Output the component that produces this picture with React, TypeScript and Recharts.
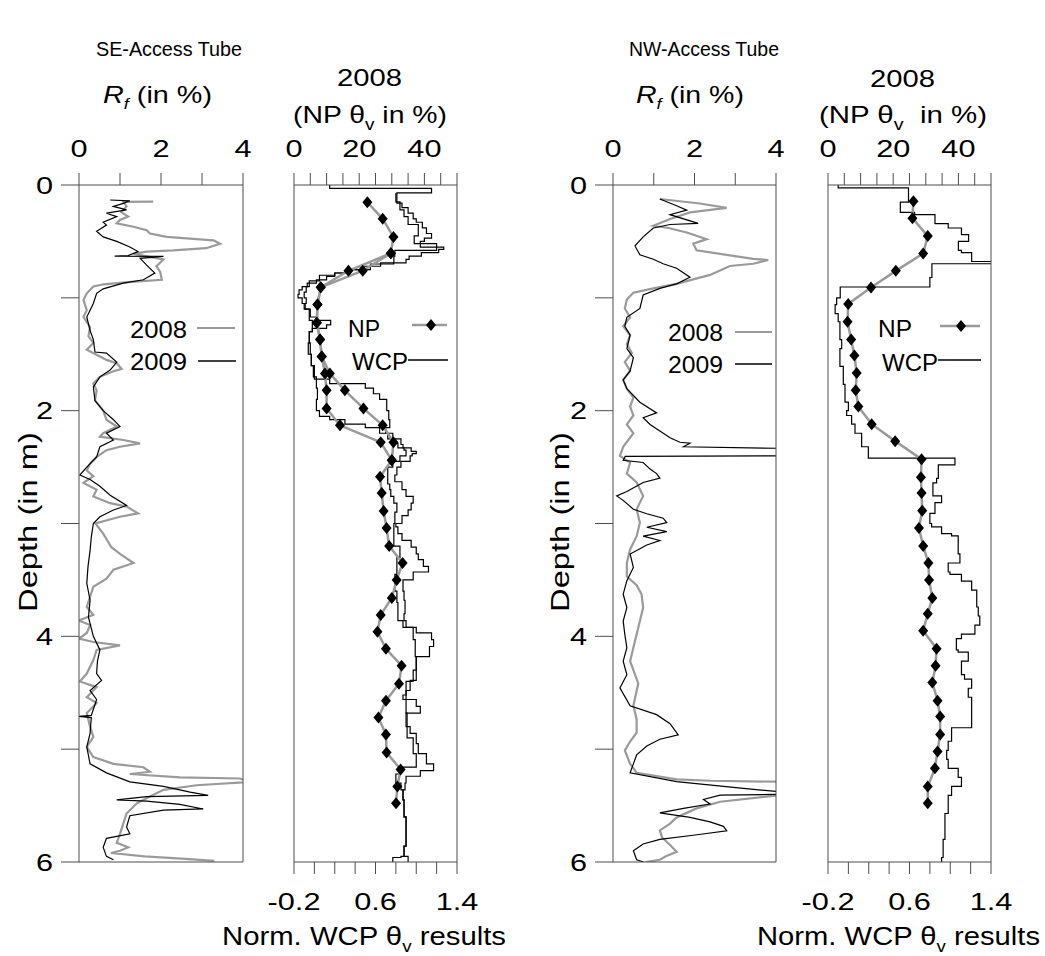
import React from "react";
import { ComposedChart, Line, XAxis, YAxis } from "recharts";

const W = 1045;
const H = 956;
const TOP = 185;
const BOTTOM = 862;
const FONT = "'Liberation Sans', Arial, Helvetica, sans-serif";
const AXIS = "#4d4d4d";
const GRAY = "#9a9a9a";

// ---- data: [depth in m, value] ----
const DEPTH_TICKS = [0, 1, 2, 3, 4, 5, 6];
const DEPTH_LABELS = [0, 2, 4, 6];
const RF_TICKS = [0, 1, 2, 3, 4];
const RF_LABELS = [0, 2, 4];
const RF_MINOR = [0, 0.4, 0.8, 1.2, 1.6, 2, 2.4, 2.8, 3.2, 3.6, 4];
const NP_TICKS = [0, 5, 10, 15, 20, 25, 30, 35, 40, 45, 50];
const NP_LABELS = [0, 20, 40];
const WCP_TICKS = [-0.2, 0, 0.2, 0.4, 0.6, 0.8, 1.0, 1.2, 1.4];
const WCP_LABELS = [-0.2, 0.6, 1.4];

const SE_RF_2008: [number, number][] = [
  [0.148, 1.81], [0.15, 1.08], [0.19, 1.16], [0.24, 1.03], [0.28, 1.2], [0.31, 1.0], [0.34, 0.92],
  [0.37, 1.33], [0.4, 1.65], [0.43, 1.73], [0.46, 2.14], [0.48, 2.87], [0.49, 3.28], [0.52, 3.44],
  [0.56, 3.1], [0.58, 2.3], [0.59, 1.65], [0.61, 1.33], [0.66, 2.06], [0.72, 1.89], [0.77, 1.98],
  [0.84, 2.02], [0.86, 1.2], [0.88, 0.6], [0.9, 0.35], [0.96, 0.19], [1.02, 0.11], [1.11, 0.19],
  [1.17, 0.11], [1.26, 0.27], [1.34, 0.23], [1.4, 0.35], [1.46, 0.19], [1.52, 0.51], [1.55, 0.67],
  [1.58, 0.92], [1.63, 1.04], [1.65, 0.84], [1.7, 0.51], [1.76, 0.35], [1.82, 0.43], [1.91, 0.39],
  [2.0, 0.59], [2.08, 0.67], [2.14, 0.92], [2.2, 0.59], [2.23, 0.51], [2.26, 1.08], [2.29, 1.49],
  [2.32, 1.0], [2.35, 0.67], [2.41, 0.43], [2.47, 0.27], [2.53, 0.19], [2.58, 0.35], [2.64, 0.11],
  [2.7, 0.43], [2.76, 0.35], [2.82, 0.76], [2.85, 1.16], [2.91, 1.44], [2.94, 1.0], [3.0, 0.4],
  [3.09, 0.59], [3.21, 0.79], [3.27, 1.0], [3.35, 1.33], [3.41, 0.84], [3.49, 0.67], [3.56, 0.35],
  [3.65, 0.27], [3.74, 0.19], [3.81, 0.35], [3.86, 0.0], [3.9, 0.27], [3.97, 0.19], [4.02, 0.0],
  [4.05, 0.35], [4.08, 1.0], [4.12, 0.43], [4.21, 0.35], [4.33, 0.19], [4.4, 0.02], [4.45, 0.43],
  [4.54, 0.19], [4.59, 0.43], [4.68, 0.19], [4.8, 0.27], [4.89, 0.35], [4.98, 0.19], [5.07, 0.35],
  [5.13, 0.84], [5.16, 1.57], [5.2, 1.73], [5.22, 1.24], [5.25, 2.46], [5.26, 3.92], [5.29, 4.2],
  [5.32, 2.87], [5.36, 2.06], [5.42, 1.73], [5.48, 1.41], [5.57, 1.16], [5.66, 1.08], [5.75, 1.0],
  [5.83, 0.92], [5.87, 1.2], [5.9, 1.0], [5.92, 0.78], [5.95, 1.6], [5.97, 2.5], [5.99, 3.3],
];

const SE_RF_2009: [number, number][] = [
  [0.133, 0.76], [0.14, 1.24], [0.163, 1.08], [0.19, 0.84], [0.22, 1.16], [0.25, 0.67], [0.28, 0.92],
  [0.33, 0.59], [0.355, 0.67], [0.41, 0.43], [0.46, 0.59], [0.5, 0.92], [0.55, 1.24], [0.59, 1.44],
  [0.625, 1.2], [0.63, 0.87], [0.632, 2.06], [0.65, 1.49], [0.71, 1.65], [0.78, 1.85], [0.84, 1.57],
  [0.87, 1.08], [0.92, 0.59], [0.96, 0.43], [1.05, 0.35], [1.17, 0.19], [1.29, 0.27], [1.37, 0.35],
  [1.48, 0.39], [1.49, 0.67], [1.57, 0.92], [1.64, 0.76], [1.7, 0.51], [1.79, 0.35], [1.91, 0.39],
  [2.0, 0.59], [2.08, 0.84], [2.14, 1.0], [2.2, 0.67], [2.26, 0.84], [2.32, 0.51], [2.41, 0.43],
  [2.5, 0.19], [2.57, 0.02], [2.61, 0.27], [2.67, 0.51], [2.75, 0.76], [2.84, 1.16], [2.88, 0.84],
  [2.94, 0.51], [3.0, 0.35], [3.12, 0.3], [3.24, 0.27], [3.38, 0.22], [3.53, 0.19], [3.68, 0.27],
  [3.83, 0.23], [4.0, 0.35], [4.12, 0.51], [4.22, 0.45], [4.33, 0.43], [4.39, 0.55], [4.48, 0.27],
  [4.56, 0.43], [4.7, 0.3], [4.71, 0.0], [4.72, 0.3], [4.86, 0.27], [4.98, 0.19], [5.13, 0.27],
  [5.21, 0.67], [5.29, 1.24], [5.33, 2.06], [5.38, 2.71], [5.41, 3.15], [5.42, 1.65], [5.45, 0.92],
  [5.46, 1.65], [5.49, 2.46], [5.53, 3.03], [5.54, 2.06], [5.59, 1.24], [5.69, 1.16], [5.75, 1.24],
  [5.79, 0.67], [5.87, 0.59], [5.95, 0.67], [5.98, 0.84],
];

const SE_NP_A: [number, number][] = [
  [0.153, 22.5], [0.3, 27.2], [0.46, 30.5], [0.605, 29.7], [0.76, 21.1], [0.907, 8.2], [1.06, 7.2],
  [1.22, 7.0], [1.37, 8.0], [1.52, 8.5], [1.67, 11.0], [1.82, 15.6], [1.98, 21.3], [2.13, 27.2],
  [2.28, 30.5], [2.44, 30.0], [2.585, 26.4], [2.73, 26.9], [2.89, 27.5], [3.04, 28.4], [3.2, 29.2],
  [3.35, 33.3], [3.5, 31.5], [3.66, 30.0], [3.81, 26.6], [3.96, 25.6], [4.11, 28.2], [4.26, 33.0],
  [4.42, 32.2], [4.57, 28.2], [4.72, 25.9], [4.87, 28.2], [5.03, 28.4], [5.18, 32.7], [5.33, 31.7],
  [5.48, 31.3],
];

const SE_NP_B: [number, number][] = [
  [0.605, 29.7], [0.76, 16.7], [0.907, 8.2], [1.06, 7.2], [1.22, 7.0], [1.37, 8.0], [1.52, 8.5],
  [1.67, 9.5], [1.82, 10.0], [1.98, 10.0], [2.13, 14.1], [2.28, 26.6], [2.44, 30.0],
];

const SE_WCP_A: [number, number][] = [
  [0, 0.15], [0.03, 1.15], [0.07, 0.81], [0.16, 0.86], [0.2, 0.92], [0.25, 0.97], [0.3, 1.0],
  [0.33, 1.06], [0.38, 1.1], [0.43, 1.15], [0.47, 1.08], [0.5, 1.04], [0.55, 1.27], [0.57, 1.22],
  [0.6, 1.05], [0.63, 0.93], [0.66, 0.9], [0.69, 0.65], [0.72, 0.45], [0.75, 0.32], [0.78, 0.2],
  [0.81, 0.12], [0.84, 0.02], [0.87, -0.07], [0.9, -0.12], [0.93, -0.15], [0.97, -0.16], [1.0, -0.12],
  [1.05, -0.09], [1.1, -0.05], [1.2, -0.02], [1.3, -0.05], [1.4, -0.04], [1.5, -0.03], [1.6, -0.01],
  [1.7, 0.0], [1.72, 0.15], [1.76, 0.5], [1.8, 0.58], [1.85, 0.64], [1.9, 0.71], [2.0, 0.73],
  [2.08, 0.74], [2.15, 0.7], [2.2, 0.77], [2.25, 0.85], [2.3, 0.87], [2.33, 0.95], [2.36, 1.0],
  [2.38, 0.96], [2.4, 0.94], [2.45, 0.85], [2.5, 0.81], [2.57, 0.79], [2.63, 0.86], [2.7, 0.9],
  [2.76, 0.97], [2.82, 0.95], [2.88, 0.92], [2.93, 0.86], [3.0, 0.8], [3.03, 0.82], [3.09, 0.86],
  [3.15, 0.95], [3.21, 1.0], [3.27, 1.02], [3.32, 1.07], [3.38, 1.12], [3.43, 0.97], [3.5, 0.87],
  [3.6, 0.88], [3.68, 0.89], [3.8, 0.88], [3.86, 0.9], [3.92, 1.0], [3.97, 1.15], [4.03, 1.17],
  [4.09, 1.13], [4.18, 1.0], [4.27, 1.0], [4.39, 0.94], [4.48, 0.9], [4.52, 0.87], [4.56, 1.0],
  [4.62, 1.04], [4.68, 0.9], [4.8, 0.94], [4.86, 1.0], [4.95, 1.02], [5.04, 1.1], [5.13, 1.17],
  [5.19, 1.04], [5.24, 0.9], [5.3, 0.89], [5.36, 0.87], [5.45, 0.88], [5.6, 0.9], [5.75, 0.9],
  [5.86, 0.88], [5.95, 0.92], [6.0, 0.92],
];

const SE_WCP_B: [number, number][] = [
  [0.07, 0.8], [0.15, 0.84], [0.22, 0.88], [0.28, 0.92], [0.35, 1.02], [0.45, 0.98], [0.52, 1.2],
  [0.58, 0.79], [0.63, 0.78], [0.7, 0.55], [0.75, 0.35], [0.78, 0.2], [0.8, 0.05], [0.85, -0.05],
  [0.9, -0.08], [0.95, -0.1], [1.0, -0.08], [1.05, -0.1], [1.1, -0.04], [1.17, 0.02], [1.2, 0.16],
  [1.24, 0.12], [1.27, -0.02], [1.3, -0.05], [1.4, -0.06], [1.5, -0.03], [1.6, 0.0], [1.7, 0.02],
  [1.8, 0.03], [1.9, 0.02], [2.0, 0.05], [2.05, 0.15], [2.08, 0.3], [2.12, 0.5], [2.15, 0.64],
  [2.2, 0.72], [2.25, 0.77], [2.29, 0.82], [2.33, 0.88], [2.35, 0.9], [2.4, 0.84], [2.45, 0.77],
  [2.5, 0.72], [2.6, 0.72], [2.65, 0.74], [2.7, 0.75], [2.76, 0.78], [2.82, 0.81], [2.9, 0.79],
  [3.0, 0.78], [3.09, 0.78], [3.2, 0.84], [3.3, 0.81], [3.45, 0.79], [3.6, 0.81], [3.7, 0.82],
  [3.86, 0.87], [3.92, 0.97], [4.03, 0.99], [4.18, 1.0], [4.3, 0.97], [4.4, 0.9], [4.56, 0.9],
  [4.68, 0.91], [4.8, 0.91], [4.9, 0.97], [5.04, 1.0], [5.16, 0.84], [5.22, 0.8], [5.3, 0.85],
  [5.36, 0.87], [5.45, 0.88], [5.6, 0.9], [5.75, 0.9], [5.86, 0.88], [5.95, 0.85], [5.96, 0.77],
  [6.0, 0.77],
];

const NW_RF_2008: [number, number][] = [
  [0.124, 1.15], [0.164, 2.13], [0.203, 2.79], [0.243, 1.89], [0.302, 1.4], [0.362, 0.99],
  [0.381, 1.36], [0.421, 1.81], [0.48, 2.3], [0.52, 1.97], [0.579, 2.05], [0.619, 2.79],
  [0.655, 3.44], [0.665, 3.81], [0.698, 3.44], [0.718, 2.87], [0.797, 2.38], [0.836, 1.97],
  [0.876, 1.56], [0.916, 0.99], [0.955, 0.5], [1.015, 0.34], [1.094, 0.29], [1.173, 0.42],
  [1.252, 0.25], [1.331, 0.42], [1.41, 0.34], [1.489, 0.46], [1.569, 0.29], [1.648, 0.42],
  [1.727, 0.25], [1.806, 0.34], [1.885, 0.5], [1.964, 0.42], [2.043, 0.5], [2.122, 0.34],
  [2.2, 0.5], [2.32, 0.25], [2.4, 0.17], [2.459, 0.42], [2.558, 0.34], [2.637, 0.58],
  [2.756, 0.74], [2.874, 0.58], [2.993, 0.66], [3.112, 0.58], [3.23, 0.42], [3.35, 0.34],
  [3.47, 0.34], [3.547, 0.58], [3.626, 0.7], [3.745, 0.74], [3.864, 0.66], [3.982, 0.58],
  [4.1, 0.5], [4.22, 0.42], [4.418, 0.62], [4.615, 0.5], [4.734, 0.58], [4.853, 0.58],
  [4.932, 0.42], [5.011, 0.29], [5.13, 0.42], [5.209, 0.58], [5.268, 1.56], [5.28, 2.38],
  [5.29, 4.3], [5.4, 4.3], [5.466, 2.63], [5.525, 2.05], [5.605, 1.56], [5.66, 1.4], [5.72, 1.15],
  [5.78, 1.2], [5.85, 1.4], [5.91, 1.56], [5.95, 1.3], [5.98, 1.15], [6.0, 0.8],
];

const NW_RF_2009: [number, number][] = [
  [0.124, 1.15], [0.184, 1.56], [0.223, 1.81], [0.263, 1.4], [0.34, 2.09], [0.35, 1.4],
  [0.381, 0.99], [0.46, 0.74], [0.54, 0.54], [0.619, 0.66], [0.658, 0.99], [0.698, 1.23],
  [0.738, 1.56], [0.817, 1.89], [0.876, 1.56], [0.916, 1.15], [0.975, 0.74], [1.094, 0.66],
  [1.173, 0.34], [1.252, 0.29], [1.331, 0.42], [1.45, 0.34], [1.53, 0.5], [1.648, 0.42],
  [1.727, 0.25], [1.806, 0.34], [1.925, 0.66], [2.02, 1.07], [2.063, 0.74], [2.122, 0.91],
  [2.24, 1.4], [2.28, 1.64], [2.289, 1.89], [2.32, 1.73], [2.335, 4.3], [2.4, 4.3], [2.405, 0.3],
  [2.44, 0.25], [2.459, 0.74], [2.518, 0.91], [2.558, 1.07], [2.597, 1.15], [2.637, 0.74],
  [2.716, 0.34], [2.756, 0.09], [2.795, 0.25], [2.874, 0.5], [2.914, 0.83], [2.953, 1.23],
  [2.993, 1.32], [3.033, 0.83], [3.072, 1.32], [3.112, 0.74], [3.151, 1.15], [3.191, 0.83],
  [3.27, 0.42], [3.389, 0.5], [3.507, 0.34], [3.626, 0.25], [3.745, 0.34], [3.864, 0.25],
  [3.982, 0.29], [4.1, 0.34], [4.22, 0.25], [4.34, 0.34], [4.457, 0.17], [4.615, 0.42],
  [4.694, 1.07], [4.774, 1.4], [4.873, 1.6], [4.912, 1.15], [4.972, 0.83], [5.051, 0.58],
  [5.13, 0.5], [5.209, 0.42], [5.288, 1.56], [5.347, 3.2], [5.385, 4.3], [5.4, 4.3],
  [5.407, 2.63], [5.446, 2.22], [5.486, 2.38], [5.525, 1.73], [5.565, 1.15], [5.605, 1.89],
  [5.644, 2.38], [5.684, 2.71], [5.723, 2.79], [5.763, 1.97], [5.8, 1.15], [5.84, 0.74],
  [5.9, 0.5], [5.98, 0.58], [6.0, 0.75],
];

const NW_NP: [number, number][] = [
  [0.144, 26.2], [0.294, 25.9], [0.453, 30.6], [0.607, 29.2], [0.761, 20.8], [0.908, 13.2],
  [1.054, 6.2], [1.212, 6.0], [1.37, 7.1], [1.51, 8.1], [1.667, 8.8], [1.818, 8.5], [1.964, 9.3],
  [2.12, 13.4], [2.27, 20.6], [2.43, 28.7], [2.59, 28.5], [2.73, 28.7], [2.886, 28.9], [3.04, 27.9],
  [3.2, 29.2], [3.35, 30.8], [3.5, 31.0], [3.66, 32.0], [3.8, 30.6], [3.95, 29.2], [4.11, 33.3],
  [4.26, 33.0], [4.41, 32.0], [4.57, 33.6], [4.71, 34.4], [4.87, 34.4], [5.02, 33.6], [5.17, 32.8],
  [5.33, 30.6], [5.48, 30.6],
];

const NW_WCP: [number, number][] = [
  [0, -0.1], [0.025, 0.59], [0.152, 0.51], [0.243, 0.65], [0.263, 0.85], [0.342, 0.98],
  [0.381, 1.11], [0.44, 1.18], [0.5, 1.08], [0.579, 1.11], [0.599, 1.21], [0.678, 1.45],
  [0.698, 0.82], [0.82, 0.8], [0.904, -0.08], [1.0, -0.115], [1.06, -0.13], [1.14, -0.1],
  [1.212, -0.083], [1.37, -0.066], [1.45, -0.083], [1.608, -0.05], [1.767, -0.033], [1.925, 0.0],
  [2.0, -0.017], [2.043, 0.032], [2.12, 0.065], [2.2, 0.13], [2.32, 0.196], [2.42, 1.046],
  [2.48, 0.883], [2.6, 0.866], [2.64, 0.83], [2.755, 0.915], [2.815, 0.85], [2.91, 0.8],
  [3.0, 0.817], [3.03, 0.915], [3.09, 1.013], [3.11, 1.078], [3.27, 1.095], [3.35, 0.98],
  [3.43, 0.997], [3.45, 1.11], [3.51, 1.21], [3.59, 1.26], [3.74, 1.275], [3.82, 1.29],
  [3.9, 1.242], [3.98, 1.11], [4.02, 1.06], [4.12, 1.078], [4.14, 1.177], [4.22, 1.11],
  [4.34, 1.14], [4.38, 1.21], [4.46, 1.177], [4.54, 1.21], [4.81, 1.013], [4.93, 0.98],
  [5.01, 0.965], [5.09, 0.98], [5.17, 1.078], [5.25, 1.11], [5.33, 1.013], [5.41, 0.98],
  [5.57, 0.948], [5.8, 0.93], [5.96, 0.915], [6.0, 0.91],
];

const rows = (pairs: [number, number][]) => pairs.map(([d, v]) => ({ d, v }));

const near = (list: number[], v: number) => list.some((l) => Math.abs(l - v) < 1e-6);

function makeTick(labels: number[], anchor: "middle" | "end", dy: number, digits: number) {
  return (p: any) => {
    const v = Number(p.payload.value);
    if (!near(labels, v)) return <g />;
    return (
      <text
        transform={`translate(${p.x},${p.y + dy}) scale(1.28,1)`}
        textAnchor={anchor}
        fontSize={24}
        fontFamily={FONT}
        fill="#000"
      >
        {v.toFixed(digits)}
      </text>
    );
  };
}

const diamond = (p: any) => {
  const { cx, cy, index } = p;
  if (cx == null || cy == null) return <g key={`dn${index}`} />;
  return (
    <polygon
      key={`dm${index}`}
      points={`${cx},${cy - 6} ${cx + 5},${cy} ${cx},${cy + 6} ${cx - 5},${cy}`}
      fill="#000"
    />
  );
};

type Series = {
  key: string;
  data: [number, number][];
  axis: "top" | "bot";
  stroke: string;
  width: number;
  step?: boolean;
  marks?: boolean;
};

type PanelProps = {
  left: number;
  right: number;
  kind: "rf" | "np";
  depthLabels: boolean;
  series: Series[];
};

function Panel({ left, right, kind, depthLabels, series }: PanelProps) {
  const axisW = depthLabels ? 79 : 30;
  const rightPad = 40;
  const botH = kind === "np" ? 60 : 0;
  const topDomain = kind === "rf" ? [0, 4] : [0, 50];
  const botDomain = kind === "rf" ? [0, 4] : [-0.2, 1.4];
  return (
    <div style={{ position: "absolute", left: left - axisW, top: 0 }}>
      <ComposedChart
        layout="vertical"
        width={axisW + (right - left) + rightPad}
        height={H}
        margin={{ top: TOP - 40, right: rightPad, bottom: H - BOTTOM - botH, left: 0 }}
      >
        <XAxis
          xAxisId="top"
          orientation="top"
          type="number"
          domain={topDomain}
          ticks={kind === "rf" ? RF_TICKS : NP_TICKS}
          interval={0}
          allowDataOverflow
          height={40}
          tickSize={12}
          tickMargin={16}
          stroke={AXIS}
          tick={makeTick(kind === "rf" ? RF_LABELS : NP_LABELS, "middle", 0, 0)}
        />
        {kind === "rf" ? (
          <XAxis
            xAxisId="bot"
            orientation="bottom"
            type="number"
            domain={botDomain}
            ticks={RF_MINOR}
            interval={0}
            allowDataOverflow
            mirror
            height={30}
            tickSize={7}
            stroke={AXIS}
            tick={false}
          />
        ) : (
          <XAxis
            xAxisId="bot"
            orientation="bottom"
            type="number"
            domain={botDomain}
            ticks={WCP_TICKS}
            interval={0}
            allowDataOverflow
            height={60}
            tickSize={12}
            tickMargin={36}
            stroke={AXIS}
            tick={makeTick(WCP_LABELS, "middle", 0, 1)}
          />
        )}
        <YAxis
          yAxisId="left"
          type="number"
          dataKey="d"
          domain={[0, 6]}
          ticks={DEPTH_TICKS}
          interval={0}
          allowDataOverflow
          width={axisW}
          tickSize={18}
          tickMargin={8}
          stroke={AXIS}
          tick={depthLabels ? makeTick(DEPTH_LABELS, "end", 8.5, 0) : false}
        />
        <YAxis
          yAxisId="right"
          orientation="right"
          type="number"
          dataKey="d"
          domain={[0, 6]}
          ticks={DEPTH_TICKS}
          interval={0}
          allowDataOverflow
          mirror
          width={20}
          tickSize={10}
          stroke={AXIS}
          tick={false}
        />
        {series.map((s) => (
          <Line
            key={s.key}
            data={rows(s.data)}
            dataKey="v"
            xAxisId={s.axis}
            yAxisId="left"
            type={s.step ? "stepBefore" : "linear"}
            stroke={s.stroke}
            strokeWidth={s.width}
            dot={s.marks ? diamond : false}
            activeDot={false}
            isAnimationActive={false}
          />
        ))}
      </ComposedChart>
    </div>
  );
}

const txt = { fontFamily: FONT, fill: "#000" } as const;

function Overlay() {
  const legendLine = (x1: number, x2: number, y: number, color: string, w: number) => (
    <line x1={x1} x2={x2} y1={y} y2={y} stroke={color} strokeWidth={w} />
  );
  const dm = (cx: number, cy: number) => (
    <polygon points={`${cx},${cy - 6} ${cx + 5},${cy} ${cx},${cy + 6} ${cx - 5},${cy}`} fill="#000" />
  );
  return (
    <svg width={W} height={H} style={{ position: "absolute", left: 0, top: 0, pointerEvents: "none" }}>
      {/* titles */}
      <text x={96} y={56} fontSize={21} textLength={146} lengthAdjust="spacingAndGlyphs" {...txt}>SE-Access Tube</text>
      <text x={629} y={56} fontSize={21} textLength={150} lengthAdjust="spacingAndGlyphs" {...txt}>NW-Access Tube</text>

      {/* R_f labels */}
      <text x={103} y={103} fontSize={24} textLength={109} lengthAdjust="spacingAndGlyphs" {...txt}>
        <tspan fontStyle="italic">R</tspan>
        <tspan fontStyle="italic" fontSize={15} dy={6}>f</tspan>
        <tspan dy={-6}> (in %)</tspan>
      </text>
      <text x={636} y={103} fontSize={24} textLength={108} lengthAdjust="spacingAndGlyphs" {...txt}>
        <tspan fontStyle="italic">R</tspan>
        <tspan fontStyle="italic" fontSize={15} dy={6}>f</tspan>
        <tspan dy={-6}> (in %)</tspan>
      </text>

      {/* NP headers */}
      <text x={337} y={86} fontSize={24} textLength={65} lengthAdjust="spacingAndGlyphs" {...txt}>2008</text>
      <text x={293} y={123} fontSize={24} textLength={154} lengthAdjust="spacingAndGlyphs" {...txt}>
        (NP θ<tspan fontSize={16} dy={7}>v</tspan>
        <tspan dy={-7}> in %)</tspan>
      </text>
      <text x={870} y={87} fontSize={24} textLength={65} lengthAdjust="spacingAndGlyphs" {...txt}>2008</text>
      <text x={819} y={123} fontSize={24} textLength={168} lengthAdjust="spacingAndGlyphs" {...txt}>
        (NP θ<tspan fontSize={16} dy={7}>v</tspan>
        <tspan dy={-7}>{"\u00a0\u00a0in %)"}</tspan>
      </text>

      {/* bottom axis titles */}
      <text x={222} y={945} fontSize={25} textLength={284} lengthAdjust="spacingAndGlyphs" {...txt}>
        Norm. WCP θ<tspan fontSize={16} dy={7}>v</tspan>
        <tspan dy={-7}> results</tspan>
      </text>
      <text x={757} y={945} fontSize={25} textLength={283} lengthAdjust="spacingAndGlyphs" {...txt}>
        Norm. WCP θ<tspan fontSize={16} dy={7}>v</tspan>
        <tspan dy={-7}> results</tspan>
      </text>

      {/* depth titles */}
      <text transform="translate(37,612) rotate(-90)" fontSize={25} textLength={180} lengthAdjust="spacingAndGlyphs" {...txt}>Depth (in m)</text>
      <text transform="translate(569,612) rotate(-90)" fontSize={25} textLength={180} lengthAdjust="spacingAndGlyphs" {...txt}>Depth (in m)</text>

      {/* legends */}
      <text x={130} y={338} fontSize={24} textLength={57} lengthAdjust="spacingAndGlyphs" {...txt}>2008</text>
      {legendLine(197, 235, 328, GRAY, 2)}
      <text x={130} y={370} fontSize={24} textLength={57} lengthAdjust="spacingAndGlyphs" {...txt}>2009</text>
      {legendLine(198, 236, 361, "#000", 1.3)}

      <text x={348} y={337} fontSize={24} textLength={32} lengthAdjust="spacingAndGlyphs" {...txt}>NP</text>
      {legendLine(412, 447, 325, GRAY, 2.5)}
      {dm(431, 325)}
      <text x={352} y={370} fontSize={24} textLength={56} lengthAdjust="spacingAndGlyphs" {...txt}>WCP</text>
      {legendLine(408, 448, 360, "#000", 1.3)}

      <text x={668} y={341} fontSize={24} textLength={55} lengthAdjust="spacingAndGlyphs" {...txt}>2008</text>
      {legendLine(735, 772, 332, GRAY, 2)}
      <text x={668} y={373} fontSize={24} textLength={55} lengthAdjust="spacingAndGlyphs" {...txt}>2009</text>
      {legendLine(735, 772, 364, "#000", 1.3)}

      <text x={878} y={337} fontSize={24} textLength={34} lengthAdjust="spacingAndGlyphs" {...txt}>NP</text>
      {legendLine(940, 980, 326, GRAY, 2.5)}
      {dm(961, 326)}
      <text x={882} y={371} fontSize={24} textLength={56} lengthAdjust="spacingAndGlyphs" {...txt}>WCP</text>
      {legendLine(938, 981, 360, "#000", 1.3)}
    </svg>
  );
}

export default function App() {
  return (
    <div style={{ position: "absolute", left: 0, top: 0, width: W, height: H, background: "#fff" }}>
      <Panel
        left={79}
        right={243}
        kind="rf"
        depthLabels
        series={[
          { key: "se08", data: SE_RF_2008, axis: "top", stroke: GRAY, width: 2.2 },
          { key: "se09", data: SE_RF_2009, axis: "top", stroke: "#000", width: 1.2 },
        ]}
      />
      <Panel
        left={294}
        right={457}
        kind="np"
        depthLabels={false}
        series={[
          { key: "sewa", data: SE_WCP_A, axis: "bot", stroke: "#000", width: 1.2, step: true },
          { key: "sewb", data: SE_WCP_B, axis: "bot", stroke: "#000", width: 1.2, step: true },
          { key: "senb", data: SE_NP_B, axis: "top", stroke: GRAY, width: 2.5, marks: true },
          { key: "sena", data: SE_NP_A, axis: "top", stroke: GRAY, width: 2.5, marks: true },
        ]}
      />
      <Panel
        left={613}
        right={776}
        kind="rf"
        depthLabels
        series={[
          { key: "nw08", data: NW_RF_2008, axis: "top", stroke: GRAY, width: 2.2 },
          { key: "nw09", data: NW_RF_2009, axis: "top", stroke: "#000", width: 1.2 },
        ]}
      />
      <Panel
        left={828}
        right={991}
        kind="np"
        depthLabels={false}
        series={[
          { key: "nww", data: NW_WCP, axis: "bot", stroke: "#000", width: 1.2, step: true },
          { key: "nwn", data: NW_NP, axis: "top", stroke: GRAY, width: 2.5, marks: true },
        ]}
      />
      <Overlay />
    </div>
  );
}
